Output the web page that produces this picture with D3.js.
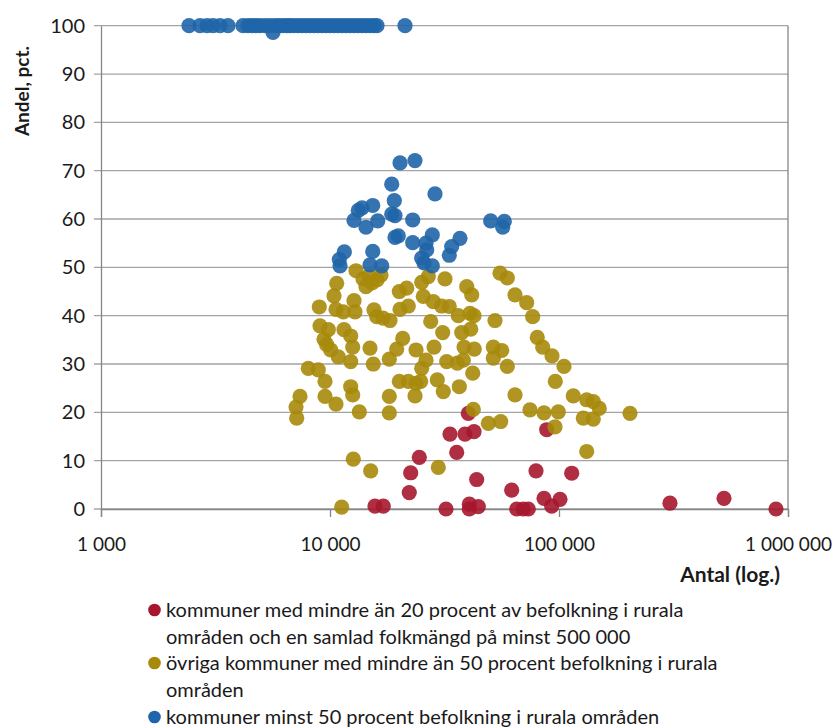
<!DOCTYPE html>
<html>
<head>
<meta charset="utf-8">
<script src="https://cdn.jsdelivr.net/npm/d3@7"></script>
<style>
  html, body { margin: 0; padding: 0; background: #fff; }
  svg { display: block; }
  text { font-family: Lato, "Open Sans", sans-serif; fill: #1a1a1a; }
</style>
</head>
<body>
<svg id="chart" width="835" height="727"></svg>
<script>
// Population (x, log scale) and share in rural areas, pct. (y)

// kommuner med mindre än 20 procent rural befolkning, samlad folkmängd minst 500 000
const urbanPoints = [
  [40170, 19.8], [88380, 16.4], [33420, 15.5], [38850, 15.5], [42540, 16.0],
  [35750, 11.7], [24550, 10.7], [22510, 7.5], [22190, 3.4], [43710, 6.1],
  [62140, 3.9], [79360, 7.9], [113630, 7.4], [86010, 2.2], [101020, 2.0],
  [92920, 0.6], [15720, 0.6], [17090, 0.6], [32110, 0.0], [40580, 1.0],
  [40580, 0.0], [44420, 0.5], [65350, 0.0], [69840, 0.0], [73430, 0.0],
  [305200, 1.2], [525400, 2.2], [886200, 0.0]
];

// övriga kommuner med mindre än 50 procent rural befolkning
const otherPoints = [
  [12990, 49.3], [13935, 47.6], [14800, 48.2], [14360, 46.0], [15254, 46.8],
  [16704, 48.4], [16045, 47.4], [10697, 46.7], [10411, 44.1], [8980, 41.8],
  [10622, 41.3], [11430, 40.8], [12731, 43.1], [12860, 40.8], [15564, 41.2],
  [15997, 39.8], [17043, 39.5], [18284, 39.0], [20074, 45.0], [21626, 45.7],
  [20216, 41.3], [21977, 42.0], [25142, 46.9], [26874, 48.1], [31782, 47.6],
  [25549, 44.0], [28258, 42.9], [30745, 42.0], [33187, 41.9], [36336, 40.0],
  [39546, 46.0], [41580, 44.3], [40875, 40.5], [42540, 40.0], [27530, 38.8],
  [31056, 36.5], [37600, 36.5], [41164, 37.2], [55262, 48.8], [59478, 47.8],
  [64254, 44.3], [72254, 42.7], [76743, 39.8], [52548, 39.0], [9044, 37.9],
  [9830, 37.1], [11512, 37.1], [12315, 35.8], [9415, 35.1], [9673, 34.0],
  [10071, 32.9], [10870, 31.5], [12564, 33.5], [12315, 30.5], [14950, 33.3],
  [15455, 30.0], [18156, 31.0], [19556, 33.1], [20774, 35.3], [23747, 32.9],
  [26259, 30.8], [28458, 33.5], [25142, 29.1], [32330, 30.5], [35974, 30.2],
  [38487, 33.5], [42670, 33.1], [38218, 30.8], [42000, 28.1], [51658, 33.5],
  [56214, 32.8], [51658, 31.2], [59478, 29.5], [80370, 35.5], [84876, 33.5],
  [93203, 31.7], [105150, 29.5], [96350, 26.4], [64254, 23.6], [8037, 29.1],
  [8890, 28.8], [9510, 26.4], [9510, 23.3], [10622, 21.7], [12315, 25.3],
  [12564, 23.6], [13428, 20.1], [7396, 23.3], [7105, 21.1], [7155, 18.8],
  [18156, 23.3], [18156, 19.9], [20074, 26.4], [21977, 26.4], [23747, 26.0],
  [24891, 26.4], [23510, 23.4], [29413, 26.7], [31244, 24.3], [36703, 25.3],
  [42254, 20.6], [74688, 20.5], [86010, 19.9], [99300, 20.1], [115470, 23.4],
  [49120, 17.7], [55652, 18.1], [96060, 17.0], [132140, 22.6], [141200, 22.2],
  [149950, 20.8], [127700, 18.8], [141200, 18.6], [204200, 19.8], [132140, 11.9],
  [12642, 10.3], [15056, 7.9], [29711, 8.6], [11248, 0.4]
];

// kommuner minst 50 procent rural befolkning
const ruralPoints = [
  [2423, 100], [2706, 100], [2903, 100], [3084, 100], [3309, 100], [3586, 100],
  [4170, 100], [4385, 100], [4565, 100], [4753, 100], [4947, 100], [5203, 100],
  [5470, 100], [5752, 100], [5989, 100], [6235, 100], [6491, 100], [6690, 100],
  [6964, 100], [7250, 100], [7546, 100], [7857, 100], [8179, 100], [8515, 100],
  [8864, 100], [9228, 100], [9606, 100], [10000, 100], [10410, 100], [10840, 100],
  [11280, 100], [11750, 100], [12230, 100], [12730, 100], [13250, 100], [13800, 100],
  [14360, 100], [14950, 100], [15560, 100], [16040, 100], [21260, 100], [5638, 98.6],
  [20220, 71.6], [23500, 72.1], [18600, 67.2], [28740, 65.2], [19090, 63.8],
  [13290, 61.8], [13800, 62.3], [15370, 62.8], [12730, 59.7], [14360, 58.3],
  [16160, 59.6], [18600, 61.0], [19220, 60.7], [22970, 59.8], [50310, 59.6],
  [57700, 59.5], [56780, 58.3], [19220, 56.2], [19870, 56.5], [22970, 55.1],
  [27970, 56.7], [26260, 55.0], [36960, 56.0], [34000, 54.3], [33190, 52.5],
  [11550, 53.2], [10980, 51.6], [11060, 50.3], [15370, 53.3], [14950, 50.5],
  [16820, 50.3], [26440, 53.6], [25140, 51.9], [25740, 50.9], [27970, 50.3]
];

// legend text, one entry per series, split into its printed lines
const legendLines = [
  ["kommuner med mindre än 20 procent av befolkning i rurala", "områden och en samlad folkmängd på minst 500 000"],
  ["övriga kommuner med mindre än 50 procent befolkning i rurala", "områden"],
  ["kommuner minst 50 procent befolkning i rurala områden"]
];
const seriesColors = ["#a6172d", "#a7890b", "#1f65a9"];

const xTicks = [1000, 10000, 100000, 1000000];
const yTicks = [0, 10, 20, 30, 40, 50, 60, 70, 80, 90, 100];
const xTitle = "Antal (log.)";
const yTitle = "Andel, pct.";

const svg = d3.select("#chart");

const plot = { left: 101, right: 788, top: 25.7, bottom: 509 };

const x = d3.scaleLog().domain([1000, 1000000]).range([plot.left, plot.right]);
const y = d3.scaleLinear().domain([0, 100]).range([plot.bottom, plot.top]);

const se = d3.formatLocale({ decimal: ",", thousands: "\u00a0", grouping: [3], currency: ["", " kr"] });
const fmtX = se.format(",d");

// horizontal gridlines with short ticks left of the axis
svg.append("g")
  .selectAll("line")
  .data(yTicks)
  .join("line")
  .attr("x1", plot.left - 7)
  .attr("x2", plot.right)
  .attr("y1", d => y(d))
  .attr("y2", d => y(d))
  .attr("stroke", "#a3a3a3")
  .attr("stroke-width", 1.3);

// y axis
const yAxis = d3.axisLeft(y).tickValues(yTicks).tickSize(0).tickPadding(16);
const gy = svg.append("g").attr("transform", `translate(${plot.left},0)`).call(yAxis);
gy.select(".domain").attr("stroke", "#868686").attr("stroke-width", 1.3);
gy.selectAll("text").attr("font-size", 20).attr("font-family", "Lato").attr("fill", "#1a1a1a");

// x axis
const xAxis = d3.axisBottom(x).tickValues(xTicks).tickFormat(fmtX).tickSize(8).tickPadding(21);
const gx = svg.append("g").attr("transform", `translate(0,${plot.bottom})`).call(xAxis);
gx.select(".domain").attr("stroke", "#868686").attr("stroke-width", 1.3);
gx.selectAll(".tick line").attr("stroke", "#868686").attr("stroke-width", 1.3);
gx.selectAll("text").attr("font-size", 19).attr("font-family", "Lato").attr("fill", "#1a1a1a");

// right edge of the plot area
svg.append("line")
  .attr("x1", x(1000000)).attr("x2", x(1000000))
  .attr("y1", y(100)).attr("y2", plot.bottom)
  .attr("stroke", "#868686").attr("stroke-width", 1.3);

// markers, drawn series by series
const allSeries = [urbanPoints, otherPoints, ruralPoints];
allSeries.forEach((pts, i) => {
  svg.append("g")
    .selectAll("circle")
    .data(pts)
    .join("circle")
    .attr("cx", d => x(d[0]))
    .attr("cy", d => y(d[1]))
    .attr("r", 7.6)
    .attr("fill", seriesColors[i])
    .attr("fill-opacity", 0.9);
});

// axis titles
svg.append("text")
  .attr("transform", `translate(22,91) rotate(-90)`)
  .attr("text-anchor", "middle")
  .attr("dy", "0.35em")
  .attr("font-size", 19)
  .attr("font-weight", "bold")
  .text(yTitle);

svg.append("text")
  .attr("x", 780).attr("y", 582)
  .attr("text-anchor", "end")
  .attr("font-size", 21)
  .attr("font-weight", "bold")
  .text(xTitle);

// legend
const legendRows = [610, 663, 717];
const lineGap = 27;
const lg = svg.append("g");
legendLines.forEach((lines, i) => {
  lg.append("circle")
    .attr("cx", 154.5).attr("cy", legendRows[i])
    .attr("r", 6.3)
    .attr("fill", seriesColors[i]);
  lines.forEach((t, j) => {
    lg.append("text")
      .attr("x", 166)
      .attr("y", legendRows[i] + j * lineGap)
      .attr("dy", "0.35em")
      .attr("font-size", 20)
      .text(t);
  });
});
</script>
</body>
</html>
